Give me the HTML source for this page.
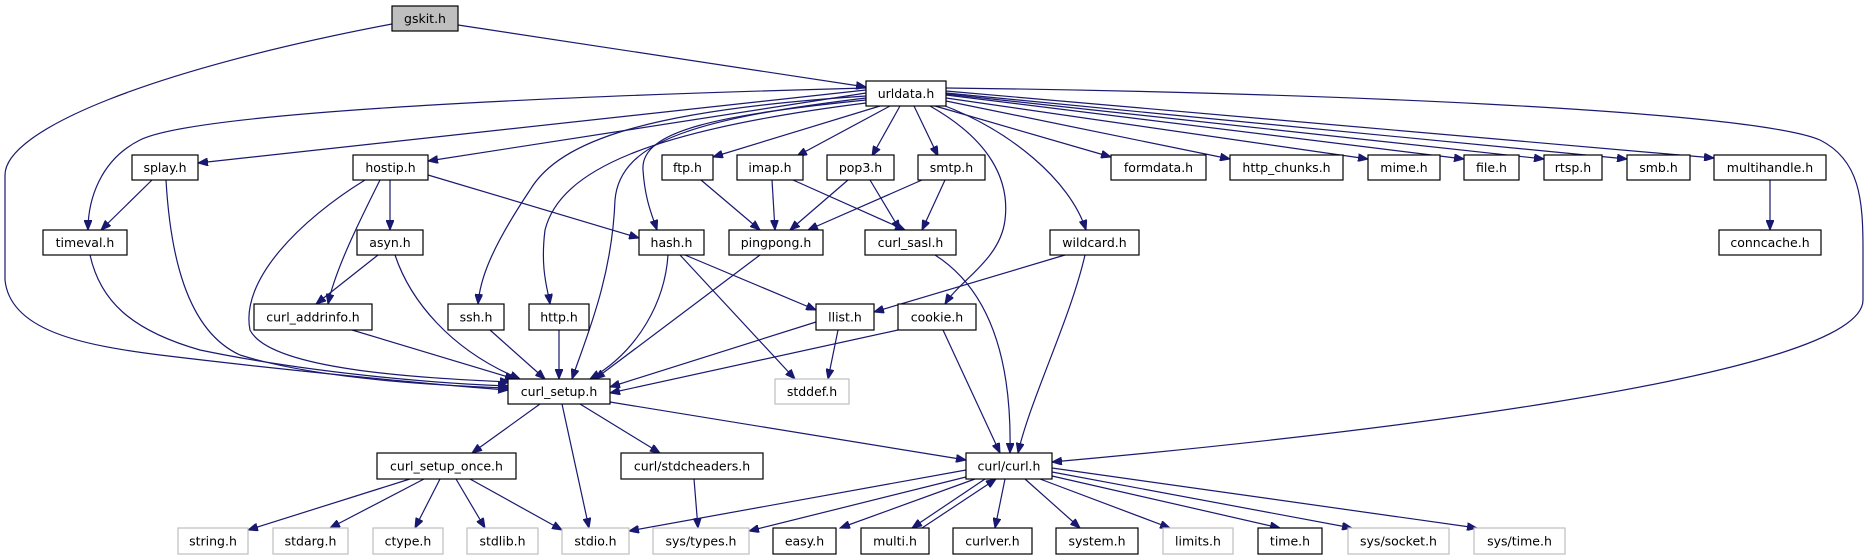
<!DOCTYPE html>
<html><head><meta charset="utf-8"><style>
html,body{margin:0;padding:0;background:#fff;}
svg{display:block}
text{font-family:"DejaVu Sans","Liberation Sans",sans-serif;font-size:12.5px;fill:#000;text-anchor:middle;dominant-baseline:central}
.e{fill:none;stroke:#191970;stroke-width:1.2;marker-end:url(#a)}
.n{fill:#fff;stroke:#000;stroke-width:1.2}
.g{fill:#fff;stroke:#bfbfbf;stroke-width:1.2}
</style></head><body>
<svg width="1871" height="560" viewBox="0 0 1871 560" xmlns="http://www.w3.org/2000/svg">
<defs><marker id="a" markerUnits="userSpaceOnUse" markerWidth="11" markerHeight="8" refX="10" refY="4" orient="auto"><path d="M0,0 L10,4 L0,8 z" fill="#191970" stroke="#191970"/></marker></defs>
<!-- edges -->
<path class="e" d="M458,25 L866,87"/>
<path class="e" d="M392,24 C150,70 5,130 5,175 L5,280 C10,330 80,345 160,355 C300,372 450,386 508,390"/>
<path class="e" d="M866,88 C600,95 200,110 140,140 C100,160 88,200 88,230"/>
<path class="e" d="M866,90 L198,163"/>
<path class="e" d="M866,93 L428,161"/>
<path class="e" d="M880,106 L713,157"/>
<path class="e" d="M890,106 L797,156"/>
<path class="e" d="M900,106 L872,156"/>
<path class="e" d="M914,106 L938,156"/>
<path class="e" d="M935,106 L1111,157"/>
<path class="e" d="M946,101 L1230,159"/>
<path class="e" d="M946,98 L1368,159"/>
<path class="e" d="M946,95 L1464,159"/>
<path class="e" d="M946,94 L1544,159"/>
<path class="e" d="M946,93 L1627,159"/>
<path class="e" d="M946,91 L1714,158"/>
<path class="e" d="M946,88 C1300,92 1750,110 1820,140 C1860,160 1863,200 1863,250 L1863,300 C1863,380 1300,440 1052,462"/>
<path class="e" d="M866,100 C720,115 640,130 643,170 C645,200 652,215 657,230"/>
<path class="e" d="M866,98 C700,118 620,140 615,200 C612,280 585,340 572,379"/>
<path class="e" d="M866,96 C650,110 560,140 530,190 C490,250 480,280 478,304"/>
<path class="e" d="M866,103 C650,130 560,170 545,230 C540,270 548,290 550,304"/>
<path class="e" d="M930,106 C990,140 1010,180 1005,220 C1000,260 960,280 945,304"/>
<path class="e" d="M940,104 C1010,130 1070,180 1086,230"/>
<path class="e" d="M1770,180 L1770,230"/>
<path class="e" d="M152,180 L101,230"/>
<path class="e" d="M166,180 C170,250 185,330 240,355 C320,380 450,386 508,388"/>
<path class="e" d="M90,255 C100,300 130,330 200,350 C320,375 450,384 508,386"/>
<path class="e" d="M390,180 L390,230"/>
<path class="e" d="M380,180 C360,220 335,270 328,304"/>
<path class="e" d="M365,180 C300,220 240,280 250,330 C270,370 420,378 510,382"/>
<path class="e" d="M428,175 L639,238"/>
<path class="e" d="M378,255 L316,304"/>
<path class="e" d="M395,255 C410,300 450,350 520,379"/>
<path class="e" d="M352,330 L515,379"/>
<path class="e" d="M490,330 L545,379"/>
<path class="e" d="M559,330 L559,379"/>
<path class="e" d="M668,255 C665,300 640,350 590,379"/>
<path class="e" d="M685,255 L816,310"/>
<path class="e" d="M680,255 L795,379"/>
<path class="e" d="M760,255 L595,379"/>
<path class="e" d="M701,180 L760,230"/>
<path class="e" d="M772,180 L775,230"/>
<path class="e" d="M793,180 L905,230"/>
<path class="e" d="M848,180 L790,230"/>
<path class="e" d="M870,180 L900,230"/>
<path class="e" d="M922,180 L808,230"/>
<path class="e" d="M945,180 L922,230"/>
<path class="e" d="M935,255 C990,290 1012,360 1010,453"/>
<path class="e" d="M1065,255 L874,312"/>
<path class="e" d="M1085,255 C1070,320 1030,400 1018,453"/>
<path class="e" d="M816,322 L610,387"/>
<path class="e" d="M838,330 L828,379"/>
<path class="e" d="M898,330 L610,393"/>
<path class="e" d="M943,330 L1000,453"/>
<path class="e" d="M540,404 L472,453"/>
<path class="e" d="M562,404 L589,528"/>
<path class="e" d="M580,404 L660,453"/>
<path class="e" d="M610,402 L966,460"/>
<path class="e" d="M410,479 L248,530"/>
<path class="e" d="M424,479 L330,528"/>
<path class="e" d="M440,479 L415,528"/>
<path class="e" d="M456,479 L485,528"/>
<path class="e" d="M470,479 L562,530"/>
<path class="e" d="M694,479 L698,528"/>
<path class="e" d="M966,470 L629,531"/>
<path class="e" d="M970,476 L749,531"/>
<path class="e" d="M975,479 L840,528"/>
<path class="e" d="M985,479 L912,528"/>
<path class="e" d="M922,528 L996,479"/>
<path class="e" d="M1005,479 L995,528"/>
<path class="e" d="M1025,479 L1080,528"/>
<path class="e" d="M1040,479 L1170,528"/>
<path class="e" d="M1052,476 L1280,528"/>
<path class="e" d="M1052,472 L1352,528"/>
<path class="e" d="M1052,468 L1477,528"/>
<!-- nodes -->
<rect x="392" y="6" width="66" height="25" fill="#bfbfbf" stroke="#000" stroke-width="1.2"/><text x="425" y="18.5">gskit.h</text>
<rect class="n" x="866" y="81" width="80" height="25"/><text x="906" y="93.5">urldata.h</text>
<rect class="n" x="132" y="155" width="66" height="25"/><text x="165" y="167.5">splay.h</text>
<rect class="n" x="353" y="155" width="75" height="25"/><text x="390.5" y="167.5">hostip.h</text>
<rect class="n" x="662" y="155" width="51" height="25"/><text x="687.5" y="167.5">ftp.h</text>
<rect class="n" x="737" y="155" width="66" height="25"/><text x="770" y="167.5">imap.h</text>
<rect class="n" x="827" y="155" width="67" height="25"/><text x="860.5" y="167.5">pop3.h</text>
<rect class="n" x="918" y="155" width="67" height="25"/><text x="951.5" y="167.5">smtp.h</text>
<rect class="n" x="1111" y="155" width="95" height="25"/><text x="1158.5" y="167.5">formdata.h</text>
<rect class="n" x="1230" y="155" width="113" height="25"/><text x="1286.5" y="167.5">http_chunks.h</text>
<rect class="n" x="1368" y="155" width="72" height="25"/><text x="1404" y="167.5">mime.h</text>
<rect class="n" x="1464" y="155" width="55" height="25"/><text x="1491.5" y="167.5">file.h</text>
<rect class="n" x="1544" y="155" width="58" height="25"/><text x="1573" y="167.5">rtsp.h</text>
<rect class="n" x="1627" y="155" width="63" height="25"/><text x="1658.5" y="167.5">smb.h</text>
<rect class="n" x="1714" y="155" width="112" height="25"/><text x="1770" y="167.5">multihandle.h</text>
<rect class="n" x="43" y="230" width="84" height="25"/><text x="85" y="242.5">timeval.h</text>
<rect class="n" x="357" y="230" width="66" height="25"/><text x="390" y="242.5">asyn.h</text>
<rect class="n" x="639" y="230" width="65" height="25"/><text x="671.5" y="242.5">hash.h</text>
<rect class="n" x="729" y="230" width="94" height="25"/><text x="776" y="242.5">pingpong.h</text>
<rect class="n" x="865" y="230" width="91" height="25"/><text x="910.5" y="242.5">curl_sasl.h</text>
<rect class="n" x="1050" y="230" width="89" height="25"/><text x="1094.5" y="242.5">wildcard.h</text>
<rect class="n" x="1719" y="230" width="102" height="25"/><text x="1770" y="242.5">conncache.h</text>
<rect class="n" x="254" y="304" width="118" height="26"/><text x="313" y="317">curl_addrinfo.h</text>
<rect class="n" x="448" y="304" width="56" height="26"/><text x="476" y="317">ssh.h</text>
<rect class="n" x="529" y="304" width="60" height="26"/><text x="559" y="317">http.h</text>
<rect class="n" x="816" y="304" width="58" height="26"/><text x="845" y="317">llist.h</text>
<rect class="n" x="898" y="304" width="78" height="26"/><text x="937" y="317">cookie.h</text>
<rect class="n" x="508" y="379" width="102" height="25"/><text x="559" y="391.5">curl_setup.h</text>
<rect class="g" x="775" y="379" width="74" height="25"/><text x="812" y="391.5">stddef.h</text>
<rect class="n" x="377" y="453" width="139" height="26"/><text x="446.5" y="466">curl_setup_once.h</text>
<rect class="n" x="621" y="453" width="142" height="26"/><text x="692" y="466">curl/stdcheaders.h</text>
<rect class="n" x="966" y="453" width="86" height="26"/><text x="1009" y="466">curl/curl.h</text>
<rect class="g" x="178" y="528" width="70" height="26"/><text x="213" y="541">string.h</text>
<rect class="g" x="273" y="528" width="75" height="26"/><text x="310.5" y="541">stdarg.h</text>
<rect class="g" x="373" y="528" width="70" height="26"/><text x="408" y="541">ctype.h</text>
<rect class="g" x="467" y="528" width="71" height="26"/><text x="502.5" y="541">stdlib.h</text>
<rect class="g" x="562" y="528" width="67" height="26"/><text x="595.5" y="541">stdio.h</text>
<rect class="g" x="653" y="528" width="96" height="26"/><text x="701" y="541">sys/types.h</text>
<rect class="n" x="773" y="528" width="63" height="26"/><text x="804.5" y="541">easy.h</text>
<rect class="n" x="861" y="528" width="68" height="26"/><text x="895" y="541">multi.h</text>
<rect class="n" x="953" y="528" width="79" height="26"/><text x="992.5" y="541">curlver.h</text>
<rect class="n" x="1056" y="528" width="82" height="26"/><text x="1097" y="541">system.h</text>
<rect class="g" x="1163" y="528" width="70" height="26"/><text x="1198" y="541">limits.h</text>
<rect class="n" x="1258" y="528" width="64" height="26"/><text x="1290" y="541">time.h</text>
<rect class="g" x="1348" y="528" width="101" height="26"/><text x="1398.5" y="541">sys/socket.h</text>
<rect class="g" x="1474" y="528" width="91" height="26"/><text x="1519.5" y="541">sys/time.h</text>
</svg>
</body></html>
